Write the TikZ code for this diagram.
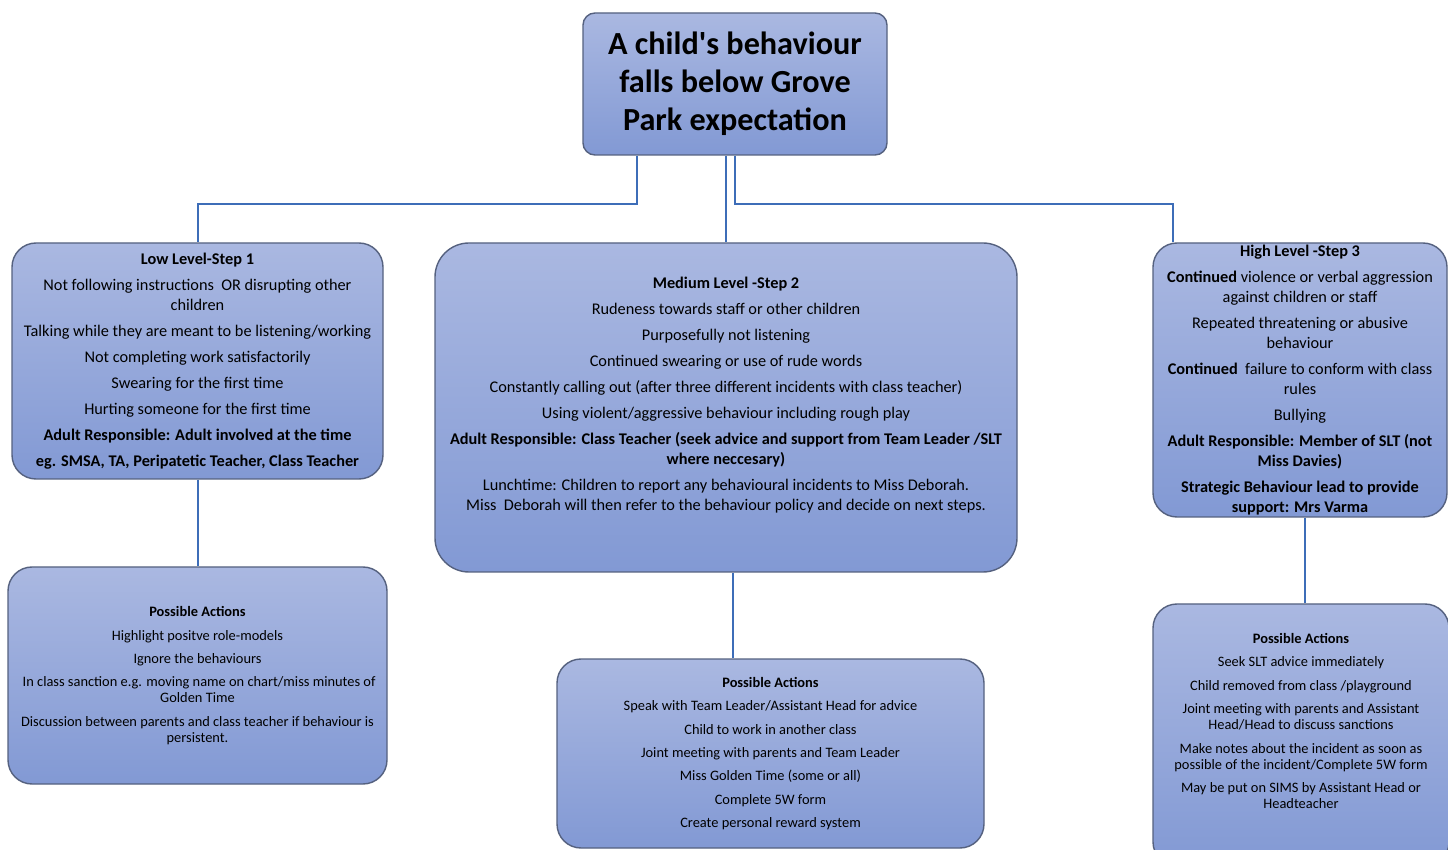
\documentclass[tikz,border=0pt]{standalone}
\usepackage{fontspec}
\setmainfont{Carlito}
\newfontfamily\headfont{Carlito}[Ligatures=TeXOff]
\definecolor{boxtop}{HTML}{AAB8E1}
\definecolor{boxbot}{HTML}{8299D4}
\definecolor{boxline}{HTML}{55617F}
\definecolor{linkblue}{HTML}{3D6DB8}
\begin{document}
\begin{tikzpicture}[x=0.5pt,y=-0.5pt,
  every node/.style={draw=boxline,line width=0.7pt,top color=boxtop,bottom color=boxbot,align=center,inner sep=0pt},
  topbox/.style={rounded corners=6pt,font=\headfont\fontsize{16.1}{19}\selectfont\bfseries},
  levelbox/.style={rounded corners=12pt,font=\fontsize{8.15}{10}\selectfont},
  actionbox/.style={rounded corners=12pt,font=\fontsize{7.2}{8}\selectfont},
  link/.style={draw=linkblue,line width=1pt}
  ]
    \useasboundingbox (0,0) rectangle (1448,850);

    \node[topbox,minimum width=152pt,minimum height=71pt] (top) at (735,84)
        {A child's behaviour\\falls below Grove\\Park expectation};

    \node[levelbox,minimum width=185.5pt,minimum height=118pt] (low) at (197.5,361)
        {\textbf{Low Level-Step 1}\\[3pt]
         Not following instructions\ \ OR disrupting other\\children\\[3pt]
         Talking while they are meant to be listening/working\\[3pt]
         Not completing work satisfactorily\\[3pt]
         Swearing for the first time\\[3pt]
         Hurting someone for the first time\\[3pt]
         \textbf{Adult Responsible: Adult involved at the time}\\[3pt]
         \textbf{eg. SMSA, TA, Peripatetic Teacher, Class Teacher}};

    \node[levelbox,rounded corners=17pt,minimum width=291pt,minimum height=164.5pt] (mid) at (726,407.5)
        {\textbf{Medium Level -Step 2}\\[3pt]
         Rudeness towards staff or other children\\[3pt]
         Purposefully not listening\\[3pt]
         Continued swearing or use of rude words\\[3pt]
         Constantly calling out (after three different incidents with class teacher)\\[3pt]
         Using violent/aggressive behaviour including rough play\\[3pt]
         \textbf{Adult Responsible: Class Teacher (seek advice and support from Team Leader /SLT}\\
         \textbf{where neccesary)}\\[3pt]
         Lunchtime: Children to report any behavioural incidents to Miss Deborah.\\
         Miss\ \ Deborah will then refer to the behaviour policy and decide on next steps.\\[4pt]
         \mbox{}};

    \node[levelbox,minimum width=147pt,minimum height=137pt] (high) at (1300,380)
        {\textbf{High Level -Step 3}\\[3pt]
         \textbf{Continued} violence or verbal aggression\\against children or staff\\[3pt]
         Repeated threatening or abusive\\behaviour\\[3pt]
         \textbf{Continued}\ \ failure to conform with class\\rules\\[3pt]
         Bullying\\[3pt]
         \textbf{Adult Responsible: Member of SLT (not}\\\textbf{Miss Davies)}\\[3pt]
         \textbf{Strategic Behaviour lead to provide}\\\textbf{support: Mrs Varma}};

    \node[actionbox,minimum width=189.5pt,minimum height=108.5pt] (lowact) at (197.5,675.5)
        {\textbf{Possible Actions}\\[3.7pt]
         Highlight positve role-models\\[3.7pt]
         Ignore the behaviours\\[3.7pt]
         \ In class sanction e.g. moving name on chart/miss minutes of\\Golden Time\\[3.7pt]
         Discussion between parents and class teacher if behaviour is\\persistent.};

    \node[actionbox,minimum width=213.5pt,minimum height=94.5pt] (midact) at (770.5,753.5)
        {\textbf{Possible Actions}\\[3.7pt]
         Speak with Team Leader/Assistant Head for advice\\[3.7pt]
         Child to work in another class\\[3.7pt]
         Joint meeting with parents and Team Leader\\[3.7pt]
         Miss Golden Time (some or all)\\[3.7pt]
         Complete 5W form\\[3.7pt]
         Create personal reward system};

    \node[actionbox,minimum width=148pt,minimum height=131pt] (highact) at (1301,735)
        {\textbf{Possible Actions}\\[3.7pt]
         Seek SLT advice immediately\\[3.7pt]
         Child removed from class /playground\\[3.7pt]
         Joint meeting with parents and Assistant\\Head/Head to discuss sanctions\\[3.7pt]
         Make notes about the incident as soon as\\possible of the incident/Complete 5W form\\[3.7pt]
         May be put on SIMS by Assistant Head or\\Headteacher\\[6pt]\mbox{}};

    \coordinate (t1) at ([xshift=-49pt]top.south);
    \coordinate (t3) at ([xshift=-63.5pt]high.north);
    \coordinate (m1) at ([xshift=3.5pt]mid.south);
    \coordinate (h1) at ([xshift=2.5pt]high.south);

    \draw[link] (t1) -- ++(0,48) -| (low.north);
    \draw[link] (mid.north |- top.south) -- (mid.north);
    \draw[link] (top.south) -- ++(0,48) -| (t3);
    \draw[link] (low.south) -- (lowact.north);
    \draw[link] (m1) -- (m1 |- midact.north);
    \draw[link] (h1) -- (h1 |- highact.north);
\end{tikzpicture}
\end{document}
